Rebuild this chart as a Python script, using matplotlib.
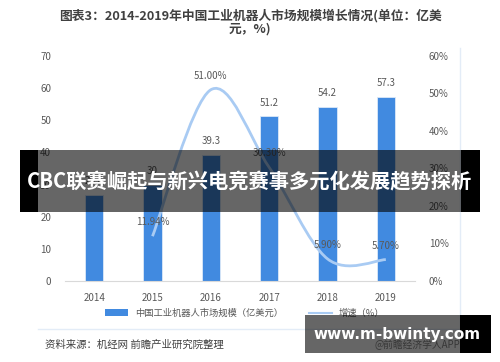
import matplotlib
matplotlib.use("Agg")
import matplotlib.pyplot as plt
from matplotlib.path import Path
from matplotlib.patches import PathPatch, Rectangle, Patch
from matplotlib.lines import Line2D
import numpy as np

plt.rcParams["font.family"] = ["Noto Sans CJK SC", "DejaVu Sans"]

# data
years = ["2014", "2015", "2016", "2017", "2018", "2019"]
market_size = [26.8, 30.0, 39.3, 51.2, 54.2, 57.3]
growth_years = ["2015", "2016", "2017", "2018", "2019"]
growth_rate = [11.94, 51.00, 30.30, 5.90, 5.70]
left_ticks = [0, 10, 20, 30, 40, 50, 60, 70]
right_ticks = [0, 10, 20, 30, 40, 50, 60]

bar_color = "#418ae0"
line_color = "#a9cbf3"
text_color = "#595959"

fig = plt.figure(figsize=(5, 3.62), dpi=100)
ax = fig.add_axes([0.13, 0.2238, 0.70, 0.6215])
ax2 = ax.twinx()

x = np.arange(len(years))
bars = ax.bar(x, market_size, width=0.31, color=bar_color,
              edgecolor="#dbe8f8", linewidth=0.6, zorder=2)
for xi, v in zip(x, market_size):
    ax.text(xi, v + 2.6, f"{v:g}" if v != int(v) else f"{int(v)}",
            ha="center", va="bottom", fontsize=7, color=text_color)

ax.set_xlim(-0.5, len(years) - 0.5)
ax.set_ylim(0, 70)
ax.set_yticks(left_ticks)
ax.set_xticks(x)
ax.set_xticklabels(years)
ax2.set_ylim(0, 60)
ax2.set_yticks(right_ticks)
ax2.set_yticklabels([f"{t}%" for t in right_ticks])

for a in (ax, ax2):
    for s in a.spines.values():
        s.set_visible(False)
    a.tick_params(length=0, labelsize=7, labelcolor=text_color)
ax.spines["bottom"].set_visible(True)
ax.spines["bottom"].set_color("#d9d9d9")
ax.tick_params(axis="x", pad=9)
ax.tick_params(axis="y", pad=10)
ax2.tick_params(axis="y", pad=10)

# smoothed growth line (Catmull-Rom -> Bezier)
gx = np.array([years.index(y) for y in growth_years], dtype=float)
gy = np.array(growth_rate)
pts = np.column_stack([gx, gy])
verts = [tuple(pts[0])]
codes = [Path.MOVETO]
for i in range(len(pts) - 1):
    p0 = pts[i - 1] if i > 0 else pts[i]
    p1 = pts[i]
    p2 = pts[i + 1]
    p3 = pts[i + 2] if i + 2 < len(pts) else pts[i + 1]
    c1 = p1 + (p2 - p0) / 6
    c2 = p2 - (p3 - p1) / 6
    verts += [tuple(c1), tuple(c2), tuple(p2)]
    codes += [Path.CURVE4] * 3
ax2.add_patch(PathPatch(Path(verts, codes), fill=False, edgecolor=line_color,
                        linewidth=2, zorder=3))
for xi, v in zip(gx, gy):
    ax2.text(xi, v + 2.4, f"{v:.2f}%", ha="center", va="bottom",
             fontsize=7, color=text_color, zorder=4)

# title
fig.text(0.5, 0.958, "图表3：2014-2019年中国工业机器人市场规模增长情况(单位：亿美",
         ha="center", va="center", fontsize=9.2, fontweight="bold", color="#404040")
fig.text(0.5, 0.92, "元，%)", ha="center", va="center", fontsize=9.2,
         fontweight="bold", color="#404040")

# legend
handles = [Patch(facecolor=bar_color, edgecolor="none"),
           Line2D([], [], color=line_color, linewidth=1.5)]
fig.legend(handles, ["中国工业机器人市场规模（亿美元）", "增速（%）"],
           loc="center", bbox_to_anchor=(0.49, 0.135), ncol=2, frameon=False,
           fontsize=6.7, handlelength=2.4, handleheight=0.7, columnspacing=2.8,
           labelcolor=text_color)

# frame lines
fig.add_artist(Line2D([38 / 500, 460 / 500], [1 - 329 / 362] * 2,
                      color="#e3ecf7", linewidth=1))
fig.add_artist(Line2D([460 / 500] * 2, [1 - 48 / 362, 1 - 329 / 362],
                      color="#e3ecf7", linewidth=1))

fig.text(45 / 500, 1 - 345 / 362, "资料来源：机经网 前瞻产业研究院整理",
         ha="left", va="center", fontsize=7.5, color="#404040")
fig.text(460 / 500, 1 - 345 / 362, "@前瞻经济学人APP", ha="right", va="center",
         fontsize=7, color="#888888")

# banner overlays
fig.add_artist(Rectangle((20 / 500, 1 - 212 / 362), 441 / 500, 62 / 362,
                         transform=fig.transFigure, facecolor="black", alpha=0.6,
                         edgecolor="none", zorder=10))
fig.add_artist(Rectangle((20 / 500, 1 - 212 / 362), 18 / 500, 62 / 362,
                         transform=fig.transFigure, facecolor="black",
                         edgecolor="none", zorder=10))
fig.add_artist(Rectangle((461 / 500, 1 - 212 / 362), 19 / 500, 62 / 362,
                         transform=fig.transFigure, facecolor="black",
                         edgecolor="none", zorder=10))
fig.text(250 / 500, 1 - 182 / 362, "CBC联赛崛起与新兴电竞赛事多元化发展趋势探析",
         ha="center", va="center", fontsize=14.6, fontweight="bold",
         color="white", zorder=11)

fig.add_artist(Rectangle((305 / 500, 1 - 353 / 362), 155 / 500, 38 / 362,
                         transform=fig.transFigure, facecolor="black", alpha=0.6,
                         edgecolor="none", zorder=10))
fig.add_artist(Rectangle((460 / 500, 1 - 353 / 362), 31 / 500, 38 / 362,
                         transform=fig.transFigure, facecolor="black",
                         edgecolor="none", zorder=10))
fig.text(397 / 500, 1 - 334 / 362, "www.m-bwinty.com", ha="center", va="center",
         fontsize=11, fontweight="bold", color="white", zorder=11,
         family="DejaVu Sans")

fig.savefig("out.png", dpi=100)
